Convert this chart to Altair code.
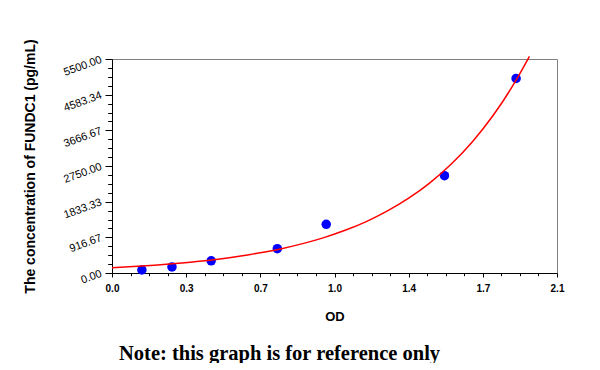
import altair as alt
import pandas as pd

# Standard points (OD vs concentration)
od_std = [0.141, 0.283, 0.468, 0.78, 1.011, 1.569, 1.907]
conc_std = [78.125, 156.25, 312.5, 625, 1250, 2500, 5000]

# Fitted curve
od_fit = [0.0, 0.1, 0.2, 0.3, 0.4, 0.5, 0.6, 0.7, 0.8, 0.9, 1.0,
          1.1, 1.2, 1.3, 1.4, 1.5, 1.6, 1.7, 1.8, 1.9, 1.97]
conc_fit = [138, 166, 201, 244, 294, 356, 430, 520, 626, 755, 910,
            1097, 1322, 1595, 1922, 2318, 2795, 3368, 4060, 4892, 5570]

# Tick values
x_major = [0, 0.35, 0.7, 1.05, 1.4, 1.75, 2.1]
x_minor = [0.0875, 0.175, 0.2625, 0.4375, 0.525, 0.6125, 0.7875, 0.875, 0.9625,
           1.1375, 1.225, 1.3125, 1.4875, 1.575, 1.6625, 1.8375, 1.925, 2.0125]
y_major = [0, 916.67, 1833.33, 2750, 3666.67, 4583.34, 5500]
y_minor = [229.17, 458.33, 687.5, 1145.83, 1375, 1604.17, 2062.5, 2291.67, 2520.83,
           2979.17, 3208.33, 3437.5, 3895.83, 4125, 4354.17, 4812.5, 5041.67, 5270.83]

note_text = ["Note: this graph is for reference only"]

pts = pd.DataFrame({"od": od_std, "conc": conc_std})
fit = pd.DataFrame({"od": od_fit, "conc": conc_fit})
note_df = pd.DataFrame({"t": note_text})

FONT = "Liberation Sans"
W, H = 445, 214

xscale = alt.Scale(domain=[0, 2.1], nice=False, zero=False)
yscale = alt.Scale(domain=[0, 5500], nice=False, zero=False)

x_axis_major = alt.Axis(
    values=x_major, orient="bottom", title="OD", grid=False,
    labelExpr="format(floor(datum.value*10+1e-9)/10, '.1f')",
    tickSize=4, tickColor="black", domainColor="black", labelColor="black",
    labelPadding=6, labelFont=FONT, labelFontSize=10, labelFontWeight="bold",
    labelFlush=False,
    titleFont=FONT, titleFontSize=13, titleFontWeight="bold", titleColor="black",
    titleY=43, titleBaseline="middle",
)
x_axis_minor = alt.Axis(
    values=x_minor, orient="bottom", title="", labels=False, domain=False,
    grid=False, tickSize=2.7, tickColor="black",
)
y_axis_major = alt.Axis(
    values=y_major, orient="left", format=".2f", grid=False,
    labelAngle=-20, labelAlign="right", labelBaseline="middle",
    tickSize=7, tickColor="black", domainColor="black", labelColor="black",
    labelPadding=4, labelFont=FONT, labelFontSize=11, labelFlush=False,
    title="The concentration of  FUNDC1 (pg/mL)",
    titleFont=FONT, titleFontSize=14, titleFontWeight="bold", titleColor="black",
    titleAngle=-90, titleX=-82, titleY=H / 2, titleBaseline="middle", titleAlign="center",
)
y_axis_minor = alt.Axis(
    values=y_minor, orient="left", title="", labels=False, domain=False,
    grid=False, tickSize=4.3, tickColor="black",
)

points = alt.Chart(pts).mark_circle(color="#0000ff", opacity=1, size=90).encode(
    x=alt.X("od:Q", scale=xscale, axis=x_axis_major),
    y=alt.Y("conc:Q", scale=yscale, axis=y_axis_major),
)

line = alt.Chart(fit).mark_line(color="#ff0000", strokeWidth=1.5, interpolate="monotone").encode(
    x=alt.X("od:Q", scale=xscale, axis=x_axis_minor),
    y=alt.Y("conc:Q", scale=yscale, axis=y_axis_minor),
)

note = alt.Chart(note_df).mark_text(
    align="left", baseline="alphabetic", font="Liberation Serif", fontSize=20.5,
    fontWeight="bold", color="black",
).encode(text="t:N", x=alt.value(7), y=alt.value(301))

chart = alt.layer(points, line, note).resolve_axis(
    x="independent", y="independent"
).properties(
    width=W, height=H,
    autosize=alt.AutoSizeParams(type="none"),
    padding={"left": 104, "top": 51, "right": 35, "bottom": 90},
    background="white",
).configure_view(stroke="#808080", strokeWidth=1)

chart.save("out.html", embed_options={"renderer": "svg", "actions": False})
